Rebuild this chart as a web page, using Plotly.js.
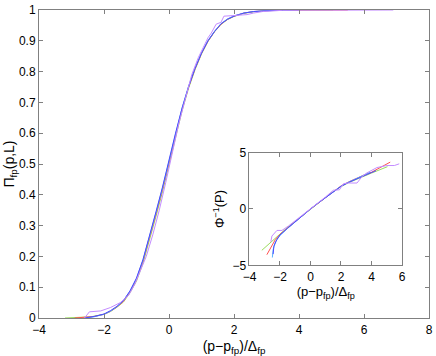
<!DOCTYPE html>
<html>
<head>
<meta charset="utf-8">
<script src="https://cdn.plot.ly/plotly-3.0.1.min.js"></script>
<style>
  html, body { margin: 0; padding: 0; background: #fff; }
  #chart { width: 436px; height: 356px; }
</style>
</head>
<body>
<div id="chart"></div>
<script>
// main plot: scaled crossing probability curves, one per system size
const violetX = [-2.6, -2.45, -2.1, -1.8, -1.5, -1.24, -1.05, -0.88, -0.7, -0.5, -0.3, -0.1, 0.1, 0.3, 0.5, 0.7, 0.9, 1.05, 1.2, 1.3, 1.45, 1.6, 1.69, 2.0, 2.4, 2.6, 2.88, 3.5, 4.5, 5.5, 6.9];
const violetY = [0, 0.02, 0.023, 0.034, 0.05, 0.074, 0.11, 0.155, 0.2, 0.27, 0.35, 0.44, 0.54, 0.63, 0.71, 0.79, 0.845, 0.88, 0.91, 0.925, 0.954, 0.96, 0.98, 0.982, 0.985, 0.99, 0.995, 0.999, 1, 1, 1];

const blueX = [-2.6, -2.3, -2.0, -1.8, -1.6, -1.4, -1.2, -1.0, -0.8, -0.6, -0.4, -0.2, 0, 0.2, 0.4, 0.6, 0.8, 1.0, 1.2, 1.4, 1.6, 1.8, 2.0, 2.3, 2.6, 3.0, 3.5, 4.0];
const blueY = [0, 0.005, 0.013, 0.024, 0.038, 0.057, 0.088, 0.13, 0.19, 0.265, 0.345, 0.425, 0.515, 0.6, 0.68, 0.75, 0.81, 0.86, 0.9, 0.93, 0.955, 0.97, 0.98, 0.99, 0.995, 0.998, 1, 1];

const cyanX = [-2.55, -2.3, -2.0, -1.8, -1.6, -1.4, -1.2, -1.0, -0.8, -0.6, -0.4, -0.2, 0, 0.2, 0.4, 0.6, 0.8, 1.0, 1.2, 1.4, 1.6, 1.8, 2.0, 2.3, 2.6, 3.0, 3.4, 3.8];
const cyanY = [0, 0.004, 0.012, 0.022, 0.037, 0.056, 0.087, 0.128, 0.188, 0.262, 0.342, 0.422, 0.512, 0.598, 0.682, 0.752, 0.812, 0.861, 0.901, 0.931, 0.956, 0.971, 0.981, 0.99, 0.995, 0.998, 1, 1];

const greenX = [-3.2, -2.8, -2.4, -2.0, -1.8, -1.6, -1.4, -1.2, -1.0, -0.8, -0.6, -0.4, -0.2, 0, 0.2, 0.4, 0.6, 0.8, 1.0, 1.2, 1.4, 1.6, 1.8, 2.0, 2.3, 2.6, 3.0, 3.5, 4.2, 5.05];
const greenY = [0, 0.001, 0.004, 0.012, 0.021, 0.035, 0.052, 0.082, 0.12, 0.178, 0.25, 0.33, 0.41, 0.5, 0.588, 0.672, 0.745, 0.806, 0.857, 0.898, 0.929, 0.953, 0.969, 0.979, 0.989, 0.994, 0.998, 0.999, 1, 1];

const redX = [-2.9, -2.6, -2.3, -2.0, -1.8, -1.6, -1.4, -1.2, -1.0, -0.8, -0.6, -0.4, -0.2, 0, 0.2, 0.4, 0.6, 0.8, 1.0, 1.2, 1.4, 1.6, 1.8, 2.0, 2.3, 2.6, 3.0, 3.5, 4.5, 5.5];
const redY = [0, 0.002, 0.005, 0.012, 0.022, 0.036, 0.054, 0.085, 0.125, 0.185, 0.258, 0.338, 0.418, 0.508, 0.594, 0.678, 0.749, 0.809, 0.859, 0.899, 0.93, 0.954, 0.97, 0.98, 0.99, 0.995, 0.998, 1, 1, 1];

// inset: probit of the same curves
const violetInX = [-2.6, -2.53, -2.2, -1.87, -1.44, -1.0, -0.5, 0, 0.5, 1.0, 1.4, 1.5, 1.9, 2.17, 2.5, 3.05, 3.4, 3.7, 4.36, 5.0, 5.5, 5.82];
const violetInY = [-2.9, -2.4, -1.9, -1.9, -1.5, -1.05, -0.52, 0.02, 0.55, 1.08, 1.6, 1.66, 1.7, 2.25, 2.3, 2.3, 2.9, 3.2, 3.67, 3.85, 3.85, 4.0];

const blueInX = [-2.45, -2.4, -2.2, -2.0, -1.5, -1.0, -0.5, 0, 0.5, 1.0, 1.5, 2.0, 2.5, 3.0, 3.5, 4.0, 4.3];
const blueInY = [-4.0, -3.3, -2.7, -2.3, -1.7, -1.12, -0.56, 0, 0.52, 1.04, 1.55, 2.0, 2.35, 2.65, 2.95, 3.2, 3.4];

const cyanInX = [-2.5, -2.45, -2.3, -2.0, -1.5, -1.0, -0.5, 0, 0.5, 1.0, 1.5, 2.0, 2.5, 3.0, 3.5, 3.9];
const cyanInY = [-4.3, -3.6, -2.9, -2.35, -1.72, -1.13, -0.57, 0, 0.53, 1.05, 1.56, 2.02, 2.38, 2.68, 2.98, 3.25];

const greenInX = [-3.19, -2.8, -2.4, -2.0, -1.5, -1.0, -0.5, 0, 0.5, 1.0, 1.5, 2.0, 2.5, 3.0, 3.5, 4.0, 4.5, 5.05];
const greenInY = [-3.66, -3.2, -2.65, -2.2, -1.62, -1.1, -0.55, 0, 0.52, 1.03, 1.53, 1.98, 2.33, 2.63, 2.93, 3.18, 3.45, 3.75];

const redInX = [-2.86, -2.6, -2.3, -2.0, -1.5, -1.0, -0.5, 0, 0.5, 1.0, 1.5, 2.0, 2.5, 3.0, 3.5, 4.0, 4.5, 5.23];
const redInY = [-4.05, -3.4, -2.7, -2.25, -1.66, -1.12, -0.56, 0, 0.52, 1.04, 1.56, 2.04, 2.4, 2.72, 3.0, 3.25, 3.6, 4.15];

const mainYTicks = [0, 0.1, 0.2, 0.3, 0.4, 0.5, 0.6, 0.7, 0.8, 0.9, 1];
const mainYLabels = ['0', '0.1', '0.2', '0.3', '0.4', '0.5', '0.6', '0.7', '0.8', '0.9', '1'];

const colors = {
  violet: '#c48cff',
  blue: '#4a4aff',
  cyan: '#5cb4ff',
  green: '#9cdc5c',
  red: '#ff5050'
};

function line(x, y, color, xa, ya) {
  return {
    x: x, y: y,
    xaxis: xa, yaxis: ya,
    mode: 'lines',
    type: 'scatter',
    line: { color: color, width: 1 },
    hoverinfo: 'skip',
    showlegend: false
  };
}

const traces = [
  line(greenX, greenY, colors.green, 'x', 'y'),
  line(redX, redY, colors.red, 'x', 'y'),
  line(cyanX, cyanY, colors.cyan, 'x', 'y'),
  line(blueX, blueY, colors.blue, 'x', 'y'),
  line(violetX, violetY, colors.violet, 'x', 'y'),
  line(greenInX, greenInY, colors.green, 'x2', 'y2'),
  line(redInX, redInY, colors.red, 'x2', 'y2'),
  line(cyanInX, cyanInY, colors.cyan, 'x2', 'y2'),
  line(blueInX, blueInY, colors.blue, 'x2', 'y2'),
  line(violetInX, violetInY, colors.violet, 'x2', 'y2')
];

const font = { family: 'Liberation Sans, Arial, sans-serif', size: 12, color: '#000' };
const axisStyle = {
  showline: true,
  linecolor: '#808080',
  linewidth: 1,
  mirror: 'ticks',
  ticks: 'inside',
  ticklen: 4,
  tickcolor: '#808080',
  showgrid: false,
  zeroline: false,
  tickfont: font
};

const layout = {
  width: 436,
  height: 356,
  margin: { l: 39, r: 7, t: 10, b: 38 },
  paper_bgcolor: '#fff',
  plot_bgcolor: '#fff',
  font: font,
  xaxis: Object.assign({}, axisStyle, {
    domain: [0, 1],
    range: [-4, 8],
    dtick: 2,
    ticklabelstandoff: 1,
    title: { text: '(p\u2212p<sub>fp</sub>)/\u0394<sub>fp</sub>', font: { size: 14 }, standoff: 5 }
  }),
  yaxis: Object.assign({}, axisStyle, {
    domain: [0, 1],
    range: [0, 1],
    tickvals: mainYTicks,
    ticktext: mainYLabels,
    title: { text: '\u03a0<sub>fp</sub>(p,L)', font: { size: 14 }, standoff: 0 }
  }),
  xaxis2: Object.assign({}, axisStyle, {
    domain: [0.5397, 0.9307],
    anchor: 'y2',
    range: [-4, 6],
    dtick: 2,
    title: { text: '(p\u2212p<sub>fp</sub>)/\u0394<sub>fp</sub>', font: { size: 13 }, standoff: 2 }
  }),
  yaxis2: Object.assign({}, axisStyle, {
    domain: [0.1707, 0.5372],
    anchor: 'x2',
    range: [-5, 5],
    dtick: 5,
    title: { text: '\u03a6<sup>\u22121</sup>(P)', font: { size: 13 }, standoff: 4 }
  })
};

Plotly.newPlot('chart', traces, layout, { displayModeBar: false, staticPlot: true });
</script>
</body>
</html>
